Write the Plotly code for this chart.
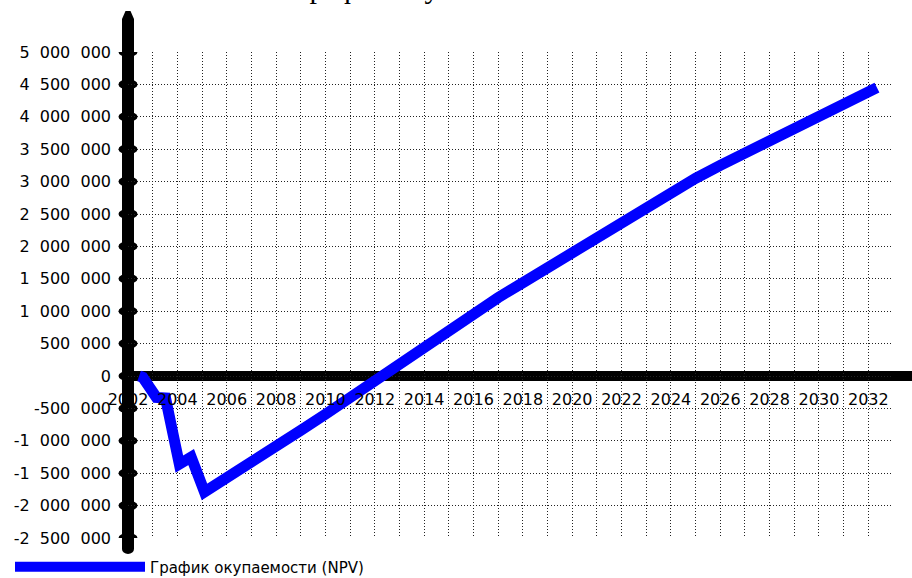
import plotly.graph_objects as go

# ---- data ----
years = [2002.45, 2002.6, 2003.15, 2003.52, 2004.08, 2004.56, 2005.1,
         2006, 2007, 2008, 2009, 2010, 2011, 2012, 2013, 2014, 2015,
         2016, 2017, 2018, 2019, 2020, 2021, 2022, 2023, 2024, 2025,
         2026, 2027, 2028, 2029, 2030, 2031, 2032, 2032.35]
npv = [0, -20000, -330000, -340000, -1360000, -1250000, -1790000,
       -1560000, -1320000, -1080000, -840000, -590000, -330000, -70000,
       200000, 450000, 710000, 960000, 1210000, 1440000, 1670000,
       1910000, 2150000, 2390000, 2620000, 2840000, 3050000, 3250000,
       3440000, 3630000, 3820000, 4010000, 4200000, 4380000, 4450000]
series_name = "График окупаемости (NPV)"
title_text = "График окупаемости"

y_ticks = [5000000, 4500000, 4000000, 3500000, 3000000, 2500000, 2000000,
           1500000, 1000000, 500000, 0, -500000, -1000000, -1500000,
           -2000000, -2500000]
x_ticks = list(range(2002, 2034))


def fmt(v):
    s = f"{abs(v):,}".replace(",", "\u00a0\u00a0")
    return ("-" if v < 0 else "") + s


y_ticktext = [fmt(v) for v in y_ticks]
x_ticktext = [str(y) if y % 2 == 0 and y <= 2032 else "" for y in x_ticks]

FONT = "DejaVu Sans"
W, H = 912, 578
ML, MR, MT, MB = 128, 19, 52, 40
PW = W - ML - MR
PH = H - MT - MB

fig = go.Figure()
fig.add_trace(go.Scatter(
    x=years, y=npv, mode="lines", name=series_name,
    line=dict(color="#0000FF", width=11),
))

grid_dash = "1px,2px"
fig.update_layout(
    template="none",
    width=W, height=H,
    margin=dict(l=ML, r=MR, t=MT, b=MB, pad=0, autoexpand=False),
    paper_bgcolor="white", plot_bgcolor="white",
    font=dict(family=FONT, size=16, color="black"),
    showlegend=True,
    legend=dict(
        x=(10 - ML) / PW, y=(H - MB - 567) / PH, xanchor="left", yanchor="middle",
        font=dict(family=FONT, size=15, color="black"),
        itemwidth=130, bgcolor="rgba(0,0,0,0)", borderwidth=0,
    ),
    xaxis=dict(
        range=[2002, 2033], tickmode="array", tickvals=x_ticks, ticktext=x_ticktext,
        showgrid=True, gridcolor="#222", gridwidth=1, griddash=grid_dash,
        zeroline=False, showline=False, ticks="", automargin=False,
        anchor="free", position=(0 - y_ticks[-1]) / (y_ticks[0] - y_ticks[-1]),
        ticklabelstandoff=12, tickfont=dict(family=FONT, size=16),
    ),
    yaxis=dict(
        range=[y_ticks[-1], y_ticks[0]], tickmode="array", tickvals=y_ticks,
        ticktext=y_ticktext, automargin=False,
        showgrid=True, gridcolor="#222", gridwidth=1, griddash=grid_dash,
        zeroline=False, showline=False, ticks="",
        ticklabelstandoff=16, tickfont=dict(family=FONT, size=16),
    ),
)

shapes = []
# horizontal zero axis bar
shapes.append(dict(type="line", xref="paper", yref="y", x0=0, x1=(W - ML) / PW,
                   y0=0, y1=0, line=dict(color="black", width=10), layer="between"))
# vertical axis bar
top_y = 1 + (MT - 21) / PH
bot_y = -(549 - (H - MB)) / PH
shapes.append(dict(type="line", xref="paper", yref="paper", x0=0, x1=0,
                   y0=bot_y, y1=top_y, line=dict(color="black", width=12), layer="between"))
# pointed tip
shapes.append(dict(type="path", xref="paper", yref="paper", xsizemode="pixel",
                   ysizemode="pixel", xanchor=0, yanchor=top_y,
                   path="M-6,0 L-6,2 L-2.5,10 L2.5,10 L6,2 L6,0 Z",
                   fillcolor="black", line=dict(width=0), layer="between"))
# bottom rounded end
shapes.append(dict(type="circle", xref="paper", yref="paper", xsizemode="pixel",
                   ysizemode="pixel", xanchor=0, yanchor=bot_y,
                   x0=-6, x1=6, y0=-5, y1=5,
                   fillcolor="black", line=dict(width=0), layer="between"))
# tick bumps
for v in y_ticks:
    shapes.append(dict(type="circle", xref="paper", yref="y", xsizemode="pixel",
                       ysizemode="pixel", xanchor=0, yanchor=v,
                       x0=-9.5, x1=9.5, y0=-5, y1=5,
                       fillcolor="black", line=dict(width=0), layer="between"))
fig.update_layout(shapes=shapes)

fig.add_annotation(
    text=title_text, xref="paper", yref="paper",
    x=(426 - ML) / PW, y=1 + (MT + 12.5) / PH, xanchor="center", yanchor="middle",
    showarrow=False, font=dict(family="Liberation Serif", size=30, color="black"),
)

fig.write_html("out.html", post_script="document.body.style.margin='0px';",
               config={"displayModeBar": False})
